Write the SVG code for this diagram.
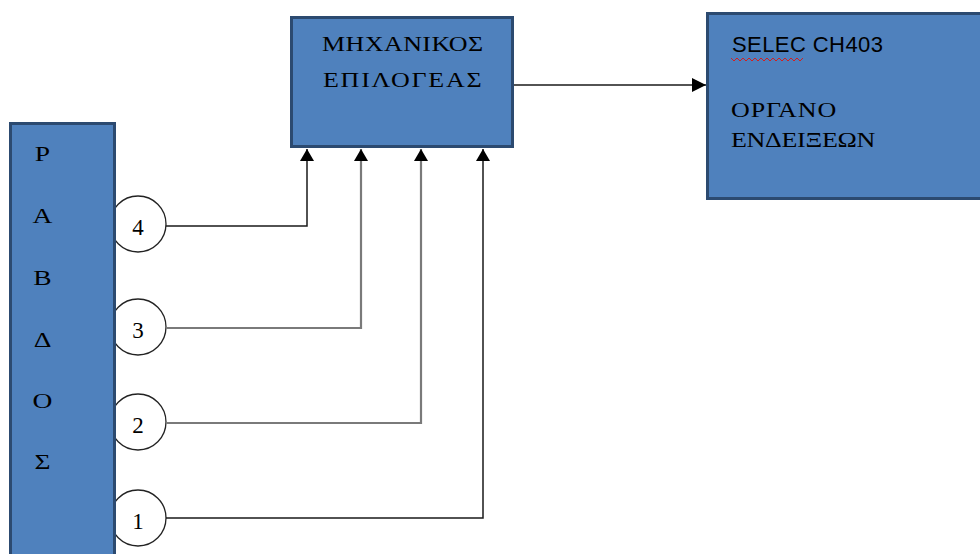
<svg xmlns="http://www.w3.org/2000/svg" width="980" height="554" viewBox="0 0 980 554">
<defs>
<style>
.box{fill:#4f81bd;stroke:#2c4a70;stroke-width:3}
.circ{fill:#fff;stroke:#222;stroke-width:1.3}
.t{font-family:"Liberation Serif","DejaVu Serif",serif;font-size:20px;fill:#000}
.s{font-family:"Liberation Sans","DejaVu Sans",sans-serif;font-size:22px;fill:#000}
.n{font-family:"Liberation Serif","DejaVu Serif",serif;font-size:23px;fill:#000;text-anchor:middle}
.l{font-family:"Liberation Serif","DejaVu Serif",serif;font-size:22px;fill:#000;text-anchor:middle}
.dk{fill:none;stroke:#1a1a1a;stroke-width:1.5}
.gr{fill:none;stroke:#7a7a7a;stroke-width:2.2}
</style>
<marker id="ah" viewBox="0 0 10 10" refX="10" refY="5" markerWidth="14" markerHeight="14" markerUnits="userSpaceOnUse" orient="auto">
<path d="M0,0 L10,5 L0,10 z" fill="#000"/>
</marker>
<marker id="ahv" viewBox="0 0 10 10" refX="10" refY="5" markerWidth="12" markerHeight="14" markerUnits="userSpaceOnUse" orient="auto" preserveAspectRatio="none">
<path d="M0,0 L10,5 L0,10 z" fill="#000"/>
</marker>
</defs>

<g id="circle4"><circle class="circ" cx="138" cy="224" r="28"/><text class="n" x="138" y="235">4</text></g>
<g id="circle3"><circle class="circ" cx="138" cy="327" r="28"/><text class="n" x="138" y="338">3</text></g>
<g id="circle2"><circle class="circ" cx="138" cy="422" r="28"/><text class="n" x="138" y="433">2</text></g>
<g id="circle1"><circle class="circ" cx="138" cy="518" r="28"/><text class="n" x="138" y="529">1</text></g>

<g id="rabdos">
<rect class="box" x="10.5" y="123.5" width="104" height="450"/>
<g transform="scale(1.25,1)">
<text class="l" x="34" y="161">Ρ</text>
<text class="l" x="34" y="223">Α</text>
<text class="l" x="34" y="285">Β</text>
<text class="l" x="34" y="347">Δ</text>
<text class="l" x="34" y="408">Ο</text>
<text class="l" x="34" y="469">Σ</text>
</g>
</g>

<g id="epilogeas">
<rect class="box" x="291.5" y="17.5" width="221" height="129"/>
<text class="t" transform="translate(322,51) scale(1.3,1)" x="0" y="0" textLength="124" lengthAdjust="spacing">ΜΗΧΑΝΙΚΟΣ</text>
<text class="t" transform="translate(323,87) scale(1.3,1)" x="0" y="0" textLength="122" lengthAdjust="spacing">ΕΠΙΛΟΓΕΑΣ</text>
</g>

<g id="selec">
<rect class="box" x="707.5" y="13.5" width="290" height="185"/>
<text class="s" x="732" y="52" textLength="151" lengthAdjust="spacing">SELEC CH403</text>
<path d="M731,58 l3,3 l3,-3 l3,3 l3,-3 l3,3 l3,-3 l3,3 l3,-3 l3,3 l3,-3 l3,3 l3,-3 l3,3 l3,-3 l3,3 l3,-3 l3,3 l3,-3 l3,3 l3,-3 l3,3 l3,-3 l3,3 l3,-3" fill="none" stroke="#d02020" stroke-width="1"/>
<text class="t" transform="translate(731,117) scale(1.3,1)" x="0" y="0" textLength="81" lengthAdjust="spacing">ΟΡΓΑΝΟ</text>
<text class="t" transform="translate(731,147) scale(1.3,1)" x="0" y="0" textLength="111" lengthAdjust="spacing">ΕΝΔΕΙΞΕΩΝ</text>
</g>

<g id="connectors">
<path class="dk" d="M514,85 H706" marker-end="url(#ah)"/>
<path class="dk" d="M166,226 H307 V149" marker-end="url(#ahv)"/>
<path class="gr" d="M166,328 H361 V149" marker-end="url(#ahv)"/>
<path class="gr" d="M166,423 H421 V149" marker-end="url(#ahv)"/>
<path class="dk" d="M166,518 H483 V149" marker-end="url(#ahv)"/>
</g>
</svg>
